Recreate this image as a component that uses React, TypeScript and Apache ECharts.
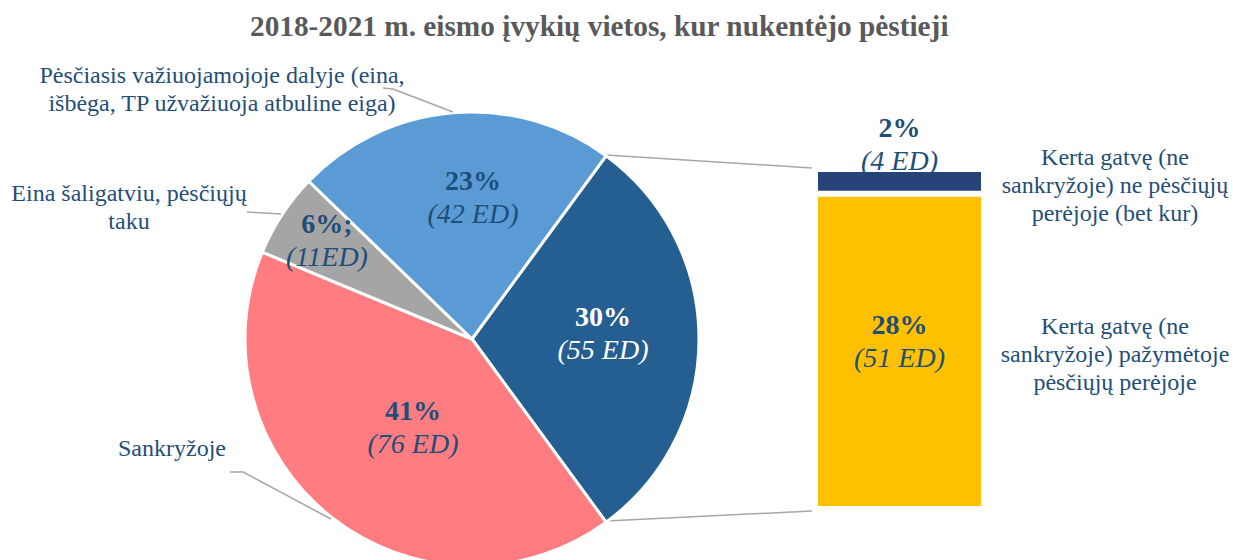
import React, { useEffect, useRef } from "react";
import * as echarts from "echarts";

const TITLE = "2018-2021 m. eismo įvykių vietos, kur nukentėjo pėstieji";

// Pie (order: the "other" slice first, then clockwise)
const pieNames = [
  "Kerta gatvę (ne sankryžoje)",
  "Sankryžoje",
  "Eina šaligatviu, pėsčiųjų\ntaku",
  "Pėsčiasis važiuojamojoje dalyje (eina,\nišbėga, TP užvažiuoja atbuline eiga)",
];
const pieValues = [55, 76, 11, 42];
const piePctLabels = ["30%", "41%", "6%;", "23%"];
const pieEdLabels = ["(55 ED)", "(76 ED)", "(11ED)", "(42 ED)"];
const pieColors = ["#255E91", "#FF7C80", "#A5A5A5", "#5B9BD5"];

// Stacked bar (bottom to top)
const barNames = [
  "Kerta gatvę (ne\nsankryžoje) pažymėtoje\npėsčiųjų perėjoje",
  "Kerta gatvę (ne\nsankryžoje) ne pėsčiųjų\nperėjoje (bet kur)",
];
const barValues = [51, 4];
const barPctLabels = ["28%", "2%"];
const barEdLabels = ["(51 ED)", "(4 ED)"];
const barColors = ["#FFC000", "#264478"];

// Layout (pixels)
const innerLabelPos = [
  [603, 333],
  [413, 427],
  [327, 240],
  [473, 197],
];
const outerLabelPos = [
  null,
  [172, 448],
  [129, 207],
  [222, 89],
];
const outerLinePts = [
  null,
  [
    [331, 519],
    [243, 472],
    [230, 472],
  ],
  [
    [281, 214],
    [264, 213],
    [247, 212],
  ],
  [
    [453, 112],
    [393, 89],
    [383, 88],
  ],
];
const barNamePos = [
  [1115, 354],
  [1115, 185],
];

const FONT = "Liberation Serif";
const TEXT = "#1F4E79";
const LEADER = "#A6A6A6";

export default function App() {
  const ref = useRef<HTMLDivElement>(null);
  useEffect(() => {
    const chart = echarts.init(ref.current as HTMLDivElement, null, {
      renderer: "svg",
    });
    const total = pieValues.reduce((a, b) => a + b, 0);
    const startAngle = ((pieValues[0] / total) * 360) / 2;
    const barTotal = barValues.reduce((a, b) => a + b, 0);
    const center = [472, 339];
    const radius = 227;

    const richInner = {
      p: { fontFamily: FONT, fontSize: 28, fontWeight: "bold", lineHeight: 33 },
      e: { fontFamily: FONT, fontSize: 28, fontStyle: "italic", lineHeight: 33 },
    };
    const richBar = {
      p: { fontFamily: FONT, fontSize: 28, fontWeight: "bold", lineHeight: 33, color: TEXT },
      e: { fontFamily: FONT, fontSize: 28, fontStyle: "italic", lineHeight: 33, color: TEXT },
    };

    const option: any = {
      animation: false,
      backgroundColor: "#ffffff",
      title: {
        text: TITLE,
        left: 250,
        top: 10,
        padding: 0,
        textStyle: {
          fontFamily: FONT,
          fontSize: 29.3,
          fontWeight: "bold",
          color: "#595959",
          lineHeight: 32,
        },
      },
      grid: { left: 815, top: 169, width: 169, height: 340 },
      xAxis: { type: "category", data: ["bar"], show: false },
      yAxis: { type: "value", min: 0, max: barTotal, show: false },
      series: [
        {
          type: "pie",
          center,
          radius,
          startAngle,
          clockwise: true,
          avoidLabelOverlap: false,
          silent: true,
          itemStyle: { borderColor: "#ffffff", borderWidth: 3 },
          data: pieValues.map((v, i) => ({
            value: v,
            name: pieNames[i],
            itemStyle: { color: pieColors[i] },
            label: { color: i === 0 ? "#ffffff" : TEXT },
          })),
          label: {
            show: true,
            position: "inside",
            fontFamily: FONT,
            formatter: (p: any) =>
              `{p|${piePctLabels[p.dataIndex]}}\n{e|${pieEdLabels[p.dataIndex]}}`,
            rich: richInner,
          },
          labelLine: { show: false },
          labelLayout: (p: any) => ({
            x: innerLabelPos[p.dataIndex][0],
            y: innerLabelPos[p.dataIndex][1],
            align: "center",
            verticalAlign: "middle",
          }),
        },
        {
          type: "pie",
          center,
          radius,
          startAngle,
          clockwise: true,
          avoidLabelOverlap: false,
          silent: true,
          z: 3,
          itemStyle: { color: "rgba(0,0,0,0)", borderWidth: 0 },
          data: pieValues.map((v, i) => ({
            value: v,
            name: pieNames[i],
            label: { show: i !== 0 },
            labelLine: { show: i !== 0 },
          })),
          label: {
            show: true,
            position: "outside",
            formatter: (p: any) => pieNames[p.dataIndex],
            fontFamily: FONT,
            fontSize: 24,
            lineHeight: 28,
            color: TEXT,
            align: "center",
          },
          labelLine: {
            show: true,
            lineStyle: { color: LEADER, width: 1.5 },
          },
          labelLayout: (p: any) => {
            const pos = outerLabelPos[p.dataIndex];
            if (!pos) return {};
            return {
              x: pos[0],
              y: pos[1],
              align: "center",
              verticalAlign: "middle",
              labelLinePoints: outerLinePts[p.dataIndex],
            };
          },
        },
        ...barValues.map((v, i) => ({
          type: "bar",
          stack: "b",
          barWidth: "100%",
          silent: true,
          data: [v],
          itemStyle: { color: barColors[i], borderColor: "#ffffff", borderWidth: 3 },
          label: {
            show: true,
            position: i === 0 ? "inside" : "top",
            offset: i === 0 ? [0, -10] : [0, 13],
            formatter: () => `{p|${barPctLabels[i]}}\n{e|${barEdLabels[i]}}`,
            rich: richBar,
          },
        })),
      ],
      graphic: [
        {
          type: "line",
          shape: { x1: 606, y1: 155, x2: 812, y2: 168 },
          style: { stroke: LEADER, lineWidth: 1.5 },
          silent: true,
        },
        {
          type: "line",
          shape: { x1: 606, y1: 521, x2: 812, y2: 511 },
          style: { stroke: LEADER, lineWidth: 1.5 },
          silent: true,
        },
        ...barNames.map((n, i) => ({
          type: "text",
          x: barNamePos[i][0],
          y: barNamePos[i][1],
          silent: true,
          style: {
            text: n,
            fill: TEXT,
            fontFamily: FONT,
            fontSize: 24,
            lineHeight: 28,
            align: "center",
            verticalAlign: "middle",
          },
        })),
      ],
    };
    chart.setOption(option);
    return () => chart.dispose();
  }, []);
  return (
    <div
      ref={ref}
      style={{
        position: "fixed",
        left: 0,
        top: 0,
        width: 1233,
        height: 560,
        background: "#ffffff",
      }}
    />
  );
}
